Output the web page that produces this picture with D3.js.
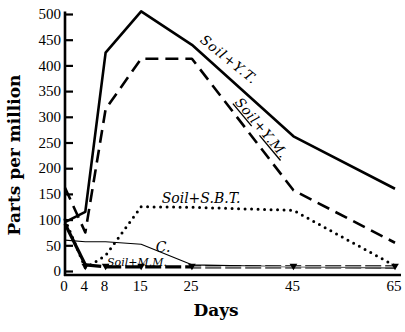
<!DOCTYPE html>
<html>
<head>
<meta charset="utf-8">
<script src="https://cdn.jsdelivr.net/npm/d3@7"></script>
<style>
  body { margin: 0; background: #fff; }
  svg { display: block; }
  .num { font-family: "Liberation Serif", "Times New Roman", Times, serif; font-size: 15px; }
  .title { font-family: "DejaVu Serif", "Liberation Serif", serif; font-weight: bold; font-size: 17px; }
  .lbl { font-family: "DejaVu Serif", "Liberation Serif", serif; font-style: italic; }
</style>
</head>
<body>
<svg id="chart" width="405" height="332"></svg>
<script>
// days on which samples were taken
var days = [0, 4, 8, 15, 25, 45, 65];
var xTicks = [0, 4, 8, 15, 25, 45, 65];
var yTicks = [0, 50, 100, 150, 200, 250, 300, 350, 400, 450, 500];

// parts per million
var soilYT = [95, 115, 425, 505, 440, 262, 160];
var soilYM = [162, 75, 315, 413, 413, 157, 55];
var soilSBT = [100, 6, 30, 125, 124, 118, 10];
var control = [60, 57, 57, 52, 12, 8, 6];
var soilMM = [92, 12, 8, 8, 8, 8, 8];

var svg = d3.select("#chart");

var x = d3.scaleLinear().domain([0, 65]).range([65, 395]);
var y = d3.scaleLinear().domain([0, 500]).range([271, 14]);

// y axis, ticks pointing inward
var yAxis = svg.append("g")
    .attr("transform", "translate(" + x(0) + ",0)")
    .call(d3.axisRight(y).tickValues(yTicks).tickSize(8).tickFormat(""));
yAxis.select(".domain").remove();
yAxis.selectAll(".tick line").attr("stroke", "#000").attr("stroke-width", 2.2);

svg.append("g").selectAll("text")
    .data(yTicks)
    .enter().append("text")
    .attr("class", "num")
    .attr("x", x(0) - 4)
    .attr("y", function (d) { return y(d); })
    .attr("dy", "0.35em")
    .attr("text-anchor", "end")
    .text(function (d) { return d; });

// axis lines
svg.append("line")
    .attr("x1", x(0)).attr("x2", x(0))
    .attr("y1", y(505)).attr("y2", 276)
    .attr("stroke", "#000").attr("stroke-width", 2.6);
svg.append("line")
    .attr("x1", x(0) - 1).attr("x2", 401)
    .attr("y1", 275).attr("y2", 275)
    .attr("stroke", "#000").attr("stroke-width", 2.4);

svg.append("g").selectAll("text")
    .data(xTicks)
    .enter().append("text")
    .attr("class", "num")
    .attr("x", function (d) { return x(d) - 1; })
    .attr("y", 291)
    .attr("text-anchor", "middle")
    .text(function (d) { return d; });

// axis titles
svg.append("text")
    .attr("class", "title")
    .attr("x", 216).attr("y", 316)
    .attr("text-anchor", "middle")
    .text("Days");

svg.append("text")
    .attr("class", "title")
    .attr("transform", "translate(20,155) rotate(-90)")
    .attr("text-anchor", "middle")
    .text("Parts per million");

var line = d3.line()
    .x(function (d) { return x(d[0]); })
    .y(function (d) { return y(d[1]); });

function pts(values, from, to) {
    return values.map(function (v, i) { return [days[i], v]; })
        .filter(function (p) { return p[0] >= from && p[0] <= to; });
}

function drawSeries(points, width, dash, cap, colour) {
    svg.append("path")
        .attr("d", line(points))
        .attr("fill", "none")
        .attr("stroke", colour || "#000")
        .attr("stroke-width", width)
        .attr("stroke-dasharray", dash)
        .attr("stroke-linecap", cap || "butt")
        .attr("stroke-linejoin", "round");
}

drawSeries(pts(control, 0, 65), 1.1, null);
drawSeries(pts(soilSBT, 0, 65), 3, "0,6.5", "round");
drawSeries(pts(soilYM, 0, 65), 2.6, "13,7");
drawSeries(pts(soilYT, 0, 65), 2.6, null);

// M.M. : solid drop, then a heavy broken line with arrow marks on each day
drawSeries(pts(soilMM, 0, 4), 3.2, null);
drawSeries(pts(soilMM, 4, 65), 3.2, "16,4");
drawSeries(pts(soilMM, 25, 65), 1, null, null, "#fff");

svg.append("g").selectAll("path")
    .data(days.slice(1))
    .enter().append("path")
    .attr("d", d3.symbol().type(d3.symbolTriangle).size(26))
    .attr("transform", function (d) {
        return "translate(" + x(d) + "," + (y(8) - 1) + ") rotate(180)";
    })
    .attr("fill", "#000");

// curve labels
function label(tx, ty, angle, size, spacing, parts) {
    var t = svg.append("text")
        .attr("class", "lbl")
        .attr("transform", "translate(" + tx + "," + ty + ") rotate(" + angle + ")")
        .attr("text-anchor", "middle")
        .style("font-size", size + "px")
        .style("letter-spacing", spacing + "px");
    parts.forEach(function (p) {
        t.append("tspan")
            .style("text-decoration", p.u ? "underline" : "none")
            .text(p.s);
    });
}

label(226, 63, 39, 13.5, 1, [{ s: "Soil+Y.T." }]);
label(258, 131, 50, 13.5, 0.8, [{ s: "Soil", u: true }, { s: "+" }, { s: "Y.M.", u: true }]);
label(201, 203, 0, 14, 0, [{ s: "Soil+S.B.T." }]);
label(163, 252, 0, 14, 0, [{ s: "C." }]);
label(137, 266, 0, 11, 0, [{ s: "Soil+M.M." }]);
</script>
</body>
</html>
